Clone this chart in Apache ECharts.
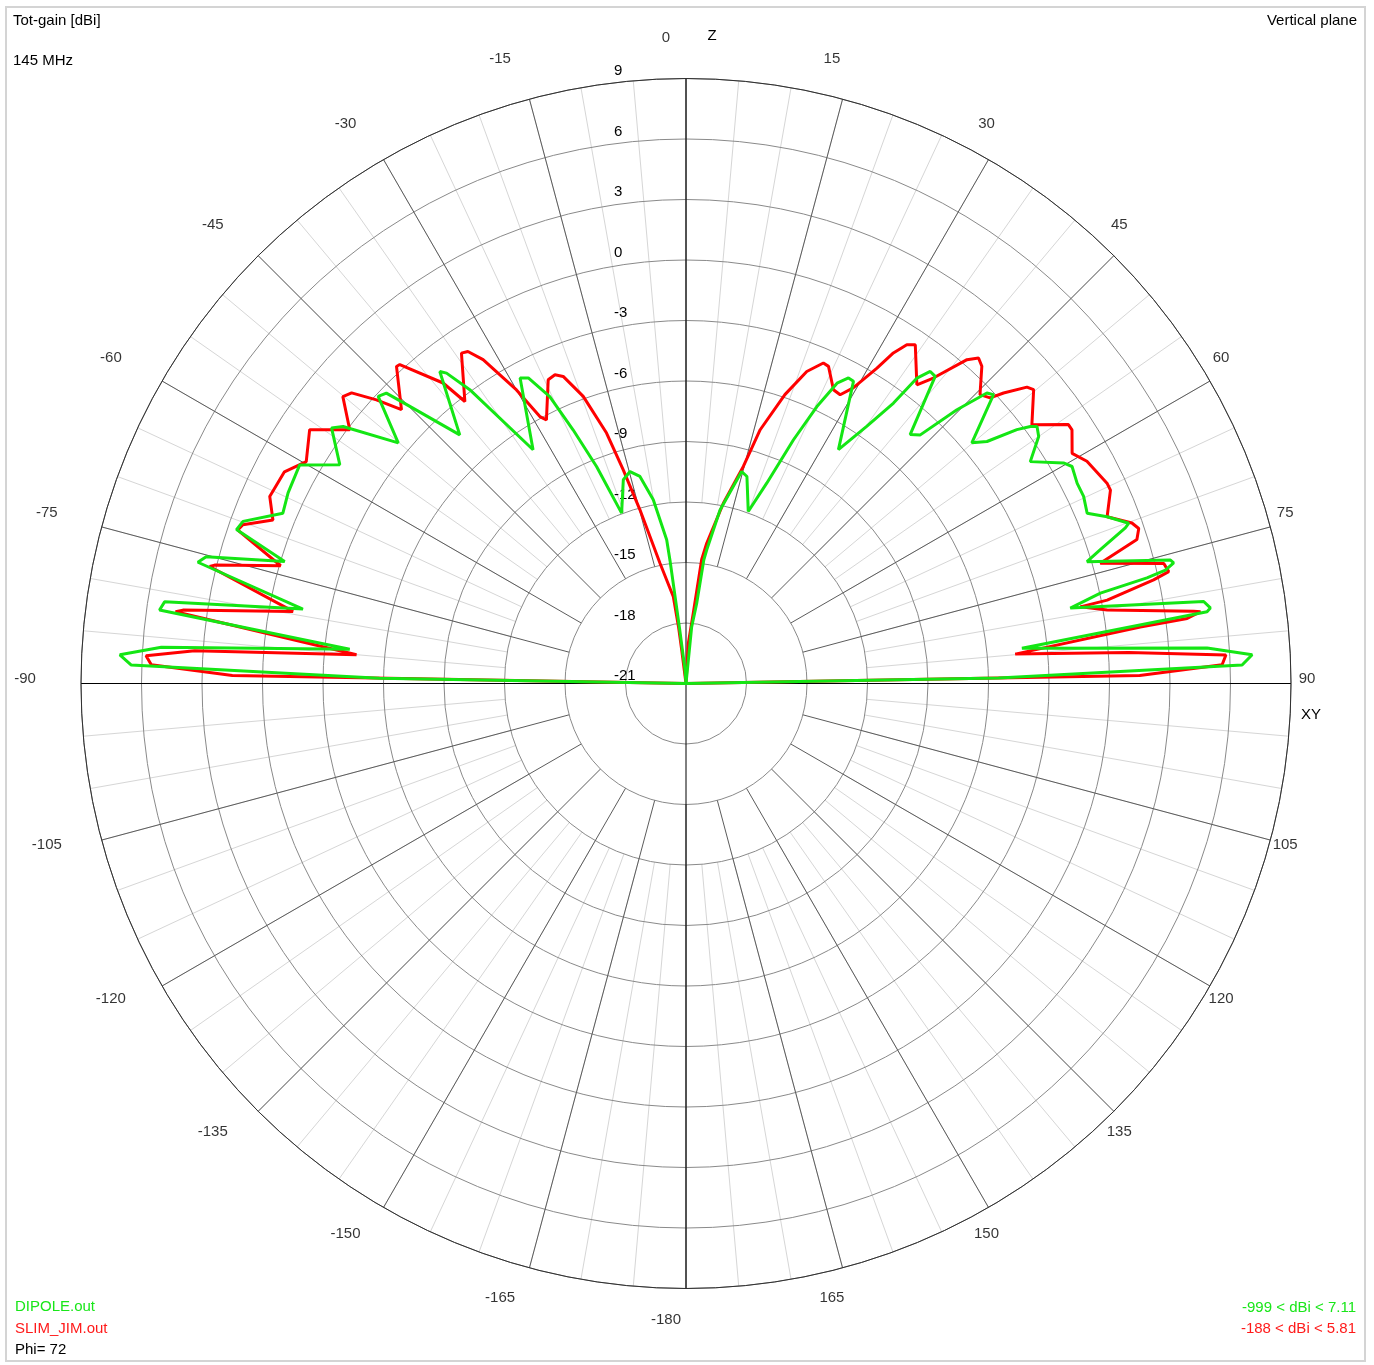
<!DOCTYPE html>
<html><head><meta charset="utf-8">
<script src="https://cdn.jsdelivr.net/npm/echarts@6/dist/echarts.min.js"></script>
<style>html,body{margin:0;padding:0;background:#fff}#c{width:1374px;height:1365px}</style>
</head><body><div id="c"></div>
<script>
// ---- data ----
const angleTicks = [0,15,30,45,60,75,90,105,120,135,150,165,-180,-165,-150,-135,-120,-105,-90,-75,-60,-45,-30,-15];
const gainMin = -21, gainMax = 9, gainStep = 3;
// [elevation angle from zenith (deg), gain dBi]
const dipoleAngles = [-90,-89,-88.1,-87.1,-86.05,-84.2,-82.05,-81.1,-79.0,-76.05,-75.2,-73.1,-71.1,-69.9,-67.1,-64.4,-60.5,-57.7,-54.2,-53.15,-50.1,-47.0,-45.9,-44.9,-42.3,-38.27,-37.65,-36.35,-33.2,-28.5,-27.3,-25.4,-24.0,-22.4,-20.7,-17.1,-14.8,-12.54,-10.1,-7.66,-7.4,-6.7,-4.2,0,
  5.7,7.6,8.2,8.8,11.1,14.7,16.4,19.9,21.95,23.8,25.3,26.7,28.0,29.0,33.1,35.1,36.5,37.1,38.05,39.06,42.0,43.3,44.7,46.0,46.8,49.9,51.2,52.5,53.26,53.8,55.0,57.2,59.7,60.66,62.9,64.8,67.0,68.4,70.1,70.5,72.1,73.1,75.7,76.1,76.7,77.1,77.7,78.9,81.0,81.8,82.15,84.0,86.1,87.1,88.1,89,90];
const dipoleGain = [-21,-5.8,6.52,7.11,5.08,-4.24,5.36,5.17,-1.65,3.94,3.61,-0.20,2.56,2.39,0.70,0.88,1.01,-0.69,0.67,0.25,-2.40,-0.13,-0.31,-1.60,-4.33,-1.29,-1.56,-2.91,-7.15,-3.76,-3.95,-5.25,-7.23,-9.36,-11.97,-10.43,-10.13,-10.48,-11.75,-13.81,-14.87,-18.2,-20.3,-21,
  -18.2,-17.0,-14.8,-14.3,-12.23,-10.13,-10.30,-11.93,-10.29,-7.79,-5.81,-4.33,-3.84,-3.87,-7.16,-5.42,-3.70,-2.01,-1.35,-1.39,-4.39,-4.06,-1.90,-0.26,-0.08,-2.47,-1.85,-0.32,0.31,0.57,0.35,-0.69,0.68,0.96,0.79,0.79,0.61,1.46,2.35,2.11,0.59,-0.22,3.79,3.91,3.43,2.45,0.03,-1.58,4.99,5.27,5.08,-4.25,4.90,7.11,6.59,-5.5,-21];
const slimAngles = [-90,-89,-88.0,-87.07,-86.2,-85.0,-82.0,-81.7,-79.6,-76.2,-75.9,-73.8,-71.1,-70.3,-68.4,-65.8,-62.2,-59.7,-56.0,-52.96,-50.1,-49.0,-47.5,-46.1,-42.4,-41.9,-38.95,-38.1,-34.2,-33.3,-32.07,-30.0,-28.7,-27.9,-24.4,-23.0,-21.8,-19.7,-17.6,-16.37,-14.85,-12.2,-8.3,-7.5,-7.3,0,
  3.3,5.9,7.2,8.4,11.7,14.8,16.3,18.9,21.16,23.2,24.2,26.65,28.1,29.5,31.2,32.1,33.1,34.1,37.7,39.0,40.95,41.95,43.0,45.5,46.8,47.55,49.0,49.8,53.2,55.9,56.7,59.2,61.0,64.55,65.5,68.4,70.2,71.1,72.3,73.8,75.9,76.95,77.5,78.8,79.0,80.1,81.9,82.05,82.6,82.9,84.9,86.0,86.98,88.0,89,90];
const slimGain = [-21,1.5,5.53,5.81,3.42,-4.6,4.56,4.21,-1.19,3.32,3.10,-0.07,2.49,2.34,1.03,1.63,1.51,0.81,1.51,-0.11,1.18,0.97,-0.18,-1.42,0.29,0.25,-1.84,-3.23,-1.19,-1.30,-2.05,-4.19,-5.91,-6.21,-4.46,-4.37,-4.60,-5.88,-7.97,-9.96,-12.09,-14.9,-16.65,-18.2,-19.3,-21,
  -19.0,-17.5,-14.8,-13.97,-11.87,-9.87,-7.89,-5.86,-4.41,-3.71,-3.76,-4.70,-4.77,-4.16,-2.72,-1.65,-0.95,-0.72,-2.28,-1.51,0.26,0.70,0.51,-0.56,-0.31,0.34,1.40,1.57,0.42,1.90,1.90,1.29,1.73,2.12,2.13,1.46,2.50,2.73,2.47,0.39,3.43,3.57,2.75,0.29,-1.08,0.20,4.43,4.76,4.06,1.70,-4.61,1.0,5.81,5.60,1.5,-21];

// ---- chart ----
const FONT = '"Liberation Sans",Arial,sans-serif';
const FS = 15;
const CENTER = [686, 683.5];
const toPolar = (angles, gains) => angles.map((a, i) => [Math.max(gains[i], gainMin), a < 0 ? a + 360 : a]);

const chart = echarts.init(document.getElementById('c'), null, {renderer: 'canvas'});
const hiddenRadius = i => ({polarIndex: i, type: 'value', min: 0, max: 1, show: false,
  axisLine: {show: false}, axisTick: {show: false}, axisLabel: {show: false}, splitLine: {show: false}});
const spokes = (i, interval, color, z) => ({polarIndex: i, type: 'value', min: 0, max: 360, interval: interval,
  startAngle: 90, clockwise: true, z: z, axisLine: {show: false}, axisTick: {show: false}, axisLabel: {show: false},
  splitLine: {show: true, lineStyle: {color: color, width: 1}}});

const txt = (text, x, y, color, align) => ({type: 'text', silent: true, z: 100,
  style: {text: text, x: x, y: y, fill: color, font: FS + 'px ' + FONT, textAlign: align || 'left', align: align || 'left',
  textVerticalAlign: 'middle', verticalAlign: 'middle'}});

chart.setOption({
  animation: false,
  backgroundColor: '#ffffff',
  polar: [
    {center: CENTER, radius: [0, 605]},
    {center: CENTER, radius: [121, 605]},
    {center: CENTER, radius: [181.5, 605]},
    {center: CENTER, radius: 641}
  ],
  angleAxis: [
    {polarIndex: 0, type: 'value', min: 0, max: 360, interval: 90, startAngle: 90, clockwise: true, z: 4,
     axisLine: {show: true, lineStyle: {color: '#303030', width: 1}}, axisTick: {show: false}, axisLabel: {show: false},
     splitLine: {show: true, lineStyle: {color: '#000000', width: 1}}},
    spokes(1, 15, '#5c5c5c', 3),
    spokes(2, 5, '#d6d6d6', 1),
    {polarIndex: 3, type: 'value', min: 0, max: 360, startAngle: 90, clockwise: true, show: false,
     axisLine: {show: false}, axisTick: {show: false}, axisLabel: {show: false}, splitLine: {show: false}}
  ],
  radiusAxis: [
    {polarIndex: 0, type: 'value', min: gainMin, max: gainMax, interval: gainStep, z: 2,
     axisLine: {show: false}, axisTick: {show: false},
     splitLine: {show: true, lineStyle: {color: '#8a8a8a', width: 1}},
     axisLabel: {show: true, margin: 72, align: 'left', verticalAlign: 'bottom', color: '#000',
       fontFamily: FONT, fontSize: FS}},
    hiddenRadius(1), hiddenRadius(2), hiddenRadius(3)
  ],
  series: [
    {name: 'SLIM_JIM.out', type: 'line', coordinateSystem: 'polar', polarIndex: 0, z: 10,
     showSymbol: false, symbol: 'none', smooth: false, clip: false,
     lineStyle: {color: '#ff0000', width: 3}, data: toPolar(slimAngles, slimGain)},
    {name: 'DIPOLE.out', type: 'line', coordinateSystem: 'polar', polarIndex: 0, z: 11,
     showSymbol: false, symbol: 'none', smooth: false, clip: false,
     lineStyle: {color: '#14e614', width: 3}, data: toPolar(dipoleAngles, dipoleGain)},
    {name: 'angleLabels', type: 'scatter', coordinateSystem: 'polar', polarIndex: 3, z: 12, silent: true, clip: false,
     symbol: 'circle', symbolSize: 1, itemStyle: {color: 'rgba(0,0,0,0)'},
     label: {show: true, position: 'inside', offset: [-20, -5], color: '#000', fontFamily: FONT, fontSize: FS,
       formatter: p => String(angleTicks[p.dataIndex])},
     data: angleTicks.map(a => [1, a < 0 ? a + 360 : a])}
  ],
  graphic: [
    {type: 'rect', silent: true, z: 0, shape: {x: 6, y: 7, width: 1359, height: 1354},
     style: {fill: 'none', stroke: '#d4d4d4', lineWidth: 2}},
    txt('Tot-gain [dBi]', 13, 21, '#000'),
    txt('145 MHz', 13, 61, '#000'),
    txt('Vertical plane', 1357, 21, '#000', 'right'),
    txt('Z', 712, 36, '#000', 'center'),
    txt('XY', 1311, 715, '#000', 'center'),
    txt('DIPOLE.out', 15, 1307, '#19e619'),
    txt('SLIM_JIM.out', 15, 1329, '#ff1a1a'),
    txt('Phi= 72', 15, 1350, '#000'),
    txt('-999 < dBi < 7.11', 1356, 1308, '#19e619', 'right'),
    txt('-188 < dBi < 5.81', 1356, 1329, '#ff1a1a', 'right')
  ]
});
</script>
</body></html>
